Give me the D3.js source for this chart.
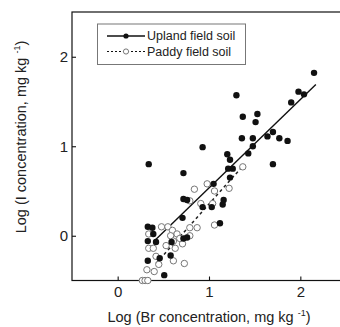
<!DOCTYPE html>
<html>
<head>
<meta charset="utf-8">
<script src="https://cdn.jsdelivr.net/npm/d3@7"></script>
<style>
  body { margin: 0; background: #fff; }
  svg text { font-family: "Liberation Sans", Arial, sans-serif; fill: #222; }
</style>
</head>
<body>
<div id="chart"></div>
<script>
// log Br (x) and log I (y)
const uplandX = [0.34, 0.93, 0.72, 1.30, 1.37, 1.53, 1.51, 1.36, 1.48, 1.48, 1.43, 1.20, 1.23, 1.21, 1.26, 1.23,
  1.64, 1.70, 1.77, 1.86, 1.70, 1.90, 1.98, 2.04, 2.15, 0.72, 0.76, 0.93, 1.03, 1.16, 1.15, 1.12, 0.71,
  0.33, 0.38, 0.33, 0.42, 0.33, 0.46, 0.58, 0.72, 0.76, 0.51, 1.05, 0.39, 0.59];
const uplandY = [0.80, 0.99, 0.70, 1.57, 1.33, 1.36, 1.27, 1.09, 1.09, 1.00, 0.92, 0.91, 0.85, 0.75, 0.75, 0.65,
  1.11, 1.16, 1.09, 1.06, 0.80, 1.49, 1.61, 1.58, 1.82, 0.41, 0.40, 0.32, 0.32, 0.40, 0.35, 0.14, 0.20,
  0.10, 0.09, -0.06, -0.07, -0.28, -0.25, -0.22, -0.03, -0.02, -0.44, 0.58, 0.02, -0.07];

const paddyX = [1.37, 1.22, 0.98, 1.06, 0.84, 0.79, 0.91, 1.04, 1.06, 0.48, 0.55, 0.60, 0.65, 0.58, 0.61, 0.79,
  0.87, 0.79, 0.71, 0.63, 0.73, 0.34, 0.34, 0.39, 0.42, 0.45, 0.40, 0.32, 0.27, 0.30, 0.33, 0.53, 0.61, 0.68];
const paddyY = [0.77, 0.53, 0.58, 0.50, 0.52, 0.39, 0.36, 0.36, 0.12, 0.10, 0.10, 0.06, 0.02, 0.00, -0.06, 0.09,
  0.09, 0.00, -0.09, -0.14, -0.31, 0.02, -0.14, -0.14, -0.23, -0.32, -0.40, -0.38, -0.50, -0.50, -0.50, -0.11, -0.28, -0.03];

// regression line end points
const uplandFitX = [0.40, 2.17];
const uplandFitY = [-0.06, 1.69];
const paddyFitX = [0.42, 1.38];
const paddyFitY = [-0.31, 0.79];

const xTicks = [0, 1, 2];
const yTicks = [0, 1, 2];
const seriesNames = ['Upland field soil', 'Paddy field soil'];

const width = 340, height = 327;
const margin = { top: 12, right: -6, bottom: 46.5, left: 72 };

const svg = d3.select('#chart').append('svg')
  .attr('width', width)
  .attr('height', height);

const x = d3.scaleLinear().domain([-0.5, 2.5]).range([margin.left, width - margin.right]);
const y = d3.scaleLinear().domain([-0.5, 2.5]).range([height - margin.bottom, margin.top]);

// frame
svg.append('rect')
  .attr('x', x(-0.5)).attr('y', y(2.5))
  .attr('width', x(2.5) - x(-0.5)).attr('height', y(-0.5) - y(2.5))
  .attr('fill', 'none').attr('stroke', '#111').attr('stroke-width', 1.2);

const xAxis = svg.append('g')
  .attr('transform', 'translate(0,' + y(-0.5) + ')')
  .call(d3.axisBottom(x).tickValues(xTicks).tickFormat(d3.format('d')).tickSize(-4).tickSizeOuter(0).tickPadding(6));
xAxis.select('.domain').remove();

const yAxis = svg.append('g')
  .attr('transform', 'translate(' + x(-0.5) + ',0)')
  .call(d3.axisLeft(y).tickValues(yTicks).tickFormat(d3.format('d')).tickSize(-4).tickSizeOuter(0).tickPadding(4));
yAxis.select('.domain').remove();

svg.selectAll('.tick line').attr('stroke', '#111').attr('stroke-width', 1.1);
svg.selectAll('.tick text')
  .style('font-family', '"Liberation Sans", Arial, sans-serif')
  .style('font-size', '15px')
  .attr('fill', '#222');

// regression lines
const line = d3.line().x(d => x(d[0])).y(d => y(d[1]));
svg.append('path')
  .datum(d3.zip(uplandFitX, uplandFitY))
  .attr('d', line)
  .attr('fill', 'none').attr('stroke', '#111').attr('stroke-width', 1.4);
svg.append('path')
  .datum(d3.zip(paddyFitX, paddyFitY))
  .attr('d', line)
  .attr('fill', 'none').attr('stroke', '#222').attr('stroke-width', 1.5)
  .attr('stroke-dasharray', '3,3');

// points
svg.append('g').selectAll('circle')
  .data(d3.zip(paddyX, paddyY))
  .enter().append('circle')
  .attr('cx', d => x(d[0]))
  .attr('cy', d => y(d[1]))
  .attr('r', 3.2)
  .attr('fill', '#fff')
  .attr('stroke', '#777')
  .attr('stroke-width', 1);

svg.append('g').selectAll('circle')
  .data(d3.zip(uplandX, uplandY))
  .enter().append('circle')
  .attr('cx', d => x(d[0]))
  .attr('cy', d => y(d[1]))
  .attr('r', 3.2)
  .attr('fill', '#111');

// legend
const legend = svg.append('g');
legend.append('rect')
  .attr('x', 97.5).attr('y', 24)
  .attr('width', 148).attr('height', 40.5)
  .attr('fill', '#fff').attr('stroke', '#777').attr('stroke-width', 1);

const rows = legend.selectAll('.row')
  .data(seriesNames)
  .enter().append('g')
  .attr('transform', (d, i) => 'translate(0,' + (36 + i * 15.5) + ')');

rows.append('line')
  .attr('x1', 107).attr('x2', 145)
  .attr('stroke', '#111').attr('stroke-width', (d, i) => i ? 1 : 1.3)
  .attr('stroke-dasharray', (d, i) => i ? '2,2' : null);

rows.append('circle')
  .attr('cx', 126).attr('r', 2.6)
  .attr('fill', (d, i) => i ? '#fff' : '#111')
  .attr('stroke', (d, i) => i ? '#777' : 'none');

rows.append('text')
  .attr('x', 147).attr('dy', '0.35em')
  .style('font-size', '12.5px')
  .text(d => d);

// axis titles
const xTitle = svg.append('text')
  .attr('x', 209).attr('y', 322)
  .attr('text-anchor', 'middle')
  .style('font-size', '14.5px');
xTitle.append('tspan').text('Log (Br concentration, mg kg ');
xTitle.append('tspan').attr('dy', -6).style('font-size', '9px').text('-1');
xTitle.append('tspan').attr('dy', 6).text(')');

const yTitle = svg.append('text')
  .attr('transform', 'translate(26,137) rotate(-90)')
  .attr('text-anchor', 'middle')
  .style('font-size', '14.5px');
yTitle.append('tspan').text('Log (I concentration, mg kg ');
yTitle.append('tspan').attr('dy', -6).style('font-size', '9px').text('-1');
yTitle.append('tspan').attr('dy', 6).text(')');
</script>
</body>
</html>
